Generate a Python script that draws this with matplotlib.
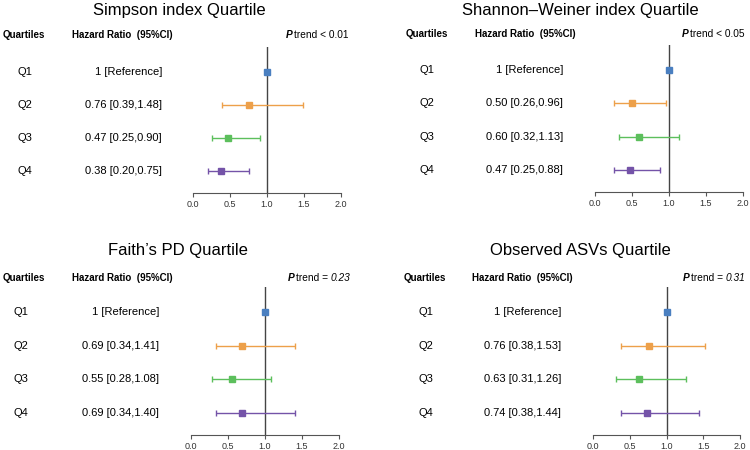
import matplotlib
matplotlib.use("Agg")
import matplotlib.pyplot as plt
import matplotlib.transforms as mtrans

plt.rcParams["font.family"] = ["Liberation Sans", "DejaVu Sans"]

titles = ["Simpson index Quartile", "Shannon\u2013Weiner index Quartile",
          "Faith\u2019s PD Quartile", "Observed ASVs Quartile"]
quartiles = ["Q1", "Q2", "Q3", "Q4"]
p_ops = ["<", "<", "=", "="]
p_vals = ["0.01", "0.05", "0.23", "0.31"]
p_italic = [False, False, True, True]

hr = [[1, 0.76, 0.47, 0.38],
      [1, 0.50, 0.60, 0.47],
      [1, 0.69, 0.55, 0.69],
      [1, 0.76, 0.63, 0.74]]
lo = [[1, 0.39, 0.25, 0.20],
      [1, 0.26, 0.32, 0.25],
      [1, 0.34, 0.28, 0.34],
      [1, 0.38, 0.31, 0.38]]
hi = [[1, 1.48, 0.90, 0.75],
      [1, 0.96, 1.13, 0.88],
      [1, 1.41, 1.08, 1.40],
      [1, 1.53, 1.26, 1.44]]

colors = ["#4a7fc0", "#eda04a", "#5cbf5c", "#7453a8"]

W, H = 750, 450
fig = plt.figure(figsize=(7.5, 4.5), dpi=100)

# pixel layout of each panel: axes box, title pos, header y, text columns
panels = [
    dict(ax=(193, 47, 341, 193), title=(179, 10), head_y=35,
         q_x=25, head_q=24, hr_left=72, hr_right=162, p_right=349),
    dict(ax=(595, 45, 743, 192), title=(580, 10), head_y=34,
         q_x=427, head_q=427, hr_left=475, hr_right=563, p_right=745),
    dict(ax=(191, 287, 339, 435), title=(178, 251), head_y=278,
         q_x=21, head_q=24, hr_left=72, hr_right=159, p_right=350),
    dict(ax=(593, 287, 740, 435), title=(580, 251), head_y=278,
         q_x=426, head_q=425, hr_left=472, hr_right=561, p_right=745),
]

for i, p in enumerate(panels):
    x0, y0, x1, y1 = p["ax"]
    ax = fig.add_axes([x0 / W, 1 - y1 / H, (x1 - x0) / W, (y1 - y0) / H])
    for j in range(4):
        if j == 0:
            ax.plot(hr[i][j], j, marker="s", ms=4.2, color=colors[j], zorder=3)
        else:
            ax.errorbar(hr[i][j], j, xerr=[[hr[i][j] - lo[i][j]], [hi[i][j] - hr[i][j]]],
                        fmt="s", ms=4.2, color=colors[j], ecolor=colors[j],
                        elinewidth=1.0, capsize=2.2, capthick=1.0, zorder=3)
    ax.axvline(1.0, color="#444444", lw=1, zorder=2)
    ax.set_xlim(0, 2)
    ax.set_ylim(3.67, -0.76)
    ax.set_xticks([0, 0.5, 1.0, 1.5, 2.0])
    ax.set_xticklabels(["0.0", "0.5", "1.0", "1.5", "2.0"])
    ax.tick_params(axis="x", labelsize=6.5, length=3, width=0.8, color="#555555",
                   labelcolor="#333333", pad=2)
    ax.set_yticks([])
    for s in ["left", "right", "top"]:
        ax.spines[s].set_visible(False)
    ax.spines["bottom"].set_color("#555555")
    ax.spines["bottom"].set_linewidth(0.8)

    tr = mtrans.blended_transform_factory(fig.transFigure, ax.transData)
    for j in range(4):
        ax.text(p["q_x"] / W, j, quartiles[j], transform=tr, ha="center",
                va="center", fontsize=8)
        if j == 0:
            s = "1 [Reference]"
        else:
            s = f"{hr[i][j]:.2f} [{lo[i][j]:.2f},{hi[i][j]:.2f}]"
        ax.text(p["hr_right"] / W, j, s, transform=tr, ha="right",
                va="center", fontsize=8)

    tx, ty = p["title"]
    fig.text(tx / W, 1 - ty / H, titles[i], ha="center", va="center", fontsize=12)
    hy = 1 - p["head_y"] / H
    fig.text(p["head_q"] / W, hy, "Quartiles", ha="center", va="center",
             fontsize=7, fontweight="bold")
    fig.text(p["hr_left"] / W, hy, "Hazard Ratio  (95%CI)", ha="left",
             va="center", fontsize=7, fontweight="bold")

    # "P trend < x" built right to left so styles can differ
    if p_italic[i]:
        t = fig.text(p["p_right"] / W, hy, p_vals[i], ha="right", va="center",
                     fontsize=7.3, style="italic")
        fig.canvas.draw()
        bb = t.get_window_extent()
        t2 = fig.text((bb.x0 - 2) / W, hy, f"trend {p_ops[i]}", ha="right",
                      va="center", fontsize=7.3)
    else:
        t2 = fig.text(p["p_right"] / W, hy, f"trend {p_ops[i]} {p_vals[i]}",
                      ha="right", va="center", fontsize=7.3)
    fig.canvas.draw()
    bb2 = t2.get_window_extent()
    fig.text((bb2.x0 - 2) / W, hy, "P", ha="right", va="center", fontsize=7.3,
             fontweight="bold", style="italic")

fig.savefig("out.png", dpi=100, facecolor="white")
